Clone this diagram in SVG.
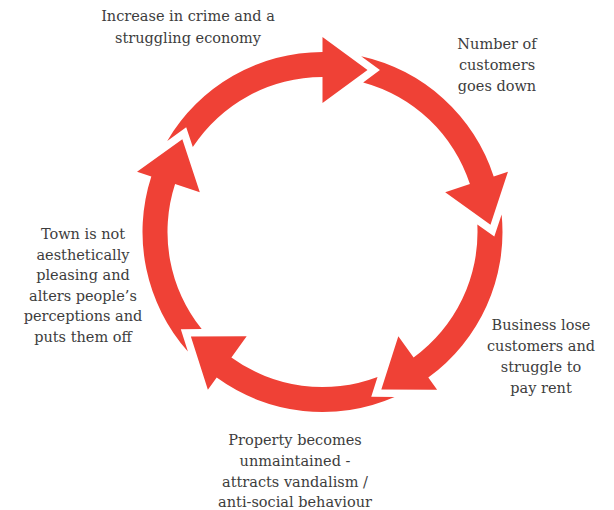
<svg xmlns="http://www.w3.org/2000/svg" xmlns:xlink="http://www.w3.org/1999/xlink" width="614" height="510" viewBox="0 0 614 510">
  <style>
    .lbl { font-family: "DejaVu Serif", "Liberation Serif", serif; font-size: 14.5px; fill: #3d3d3d; text-anchor: middle; }
    .arrow { fill: #ef4136; }
  </style>
  <defs>
    <!-- One curved arrow segment: head base at 12 o'clock, notched tail 72deg back -->
    <path id="seg" class="arrow" d="M -155.25 -91.08 A 180 180 0 0 1 0 -180 L 0 -195 L 45 -162 L 0 -129 L 0 -155 A 155 155 0 0 0 -129.7 -84.9 L -136.3 -104.7 Z"/>
  </defs>
  <rect width="614" height="510" fill="#ffffff"/>

  <g id="connectors">
    <use xlink:href="#seg" transform="translate(322.5 232) rotate(0)"/>
    <use xlink:href="#seg" transform="translate(322.5 232) rotate(72)"/>
    <use xlink:href="#seg" transform="translate(322.5 232) rotate(144)"/>
    <use xlink:href="#seg" transform="translate(322.5 232) rotate(216)"/>
    <use xlink:href="#seg" transform="translate(322.5 232) rotate(288)"/>
  </g>

  <g id="crime">
    <text class="lbl" x="188" y="21">Increase in crime and a</text>
    <text class="lbl" x="188" y="43">struggling economy</text>
  </g>
  <g id="customers">
    <text class="lbl" x="497" y="49">Number of</text>
    <text class="lbl" x="497" y="70">customers</text>
    <text class="lbl" x="497" y="91">goes down</text>
  </g>
  <g id="business">
    <text class="lbl" x="541" y="330">Business lose</text>
    <text class="lbl" x="541" y="351">customers and</text>
    <text class="lbl" x="541" y="372">struggle to</text>
    <text class="lbl" x="541" y="393">pay rent</text>
  </g>
  <g id="property">
    <text class="lbl" x="295" y="445">Property becomes</text>
    <text class="lbl" x="295" y="466">unmaintained -</text>
    <text class="lbl" x="295" y="487">attracts vandalism /</text>
    <text class="lbl" x="295" y="507">anti-social behaviour</text>
  </g>
  <g id="town">
    <text class="lbl" x="83" y="239">Town is not</text>
    <text class="lbl" x="83" y="260">aesthetically</text>
    <text class="lbl" x="83" y="280">pleasing and</text>
    <text class="lbl" x="83" y="301">alters people’s</text>
    <text class="lbl" x="83" y="321">perceptions and</text>
    <text class="lbl" x="83" y="342">puts them off</text>
  </g>
</svg>
